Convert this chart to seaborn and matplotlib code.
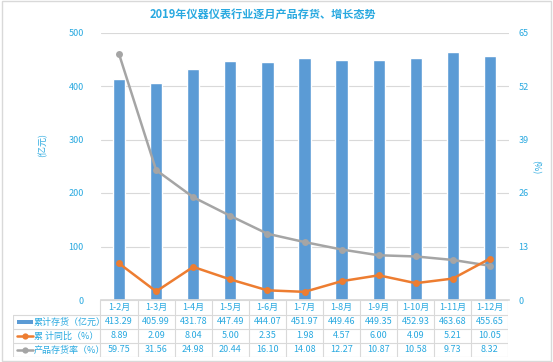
import numpy as np
import matplotlib
matplotlib.use("Agg")
import matplotlib.pyplot as plt
import seaborn as sns
from matplotlib.patches import Rectangle
from matplotlib.lines import Line2D

# data
months = ['1-2月', '1-3月', '1-4月', '1-5月', '1-6月', '1-7月', '1-8月', '1-9月', '1-10月', '1-11月', '1-12月']
inventory = [413.29, 405.99, 431.78, 447.49, 444.07, 451.97, 449.46, 449.35, 452.93, 463.68, 455.65]
yoy = [8.89, 2.09, 8.04, 5.00, 2.35, 1.98, 4.57, 6.00, 4.09, 5.21, 10.05]
stock_rate = [59.75, 31.56, 24.98, 20.44, 16.10, 14.08, 12.27, 10.87, 10.58, 9.73, 8.32]
row_names = ['累计存货（亿元）', '累 计同比（%）', '产品存货率（%）']
left_ticks = [0, 100, 200, 300, 400, 500]
right_ticks = [0, 13, 26, 39, 52, 65]

sns.set_theme(style="white")
plt.rcParams['font.family'] = ['Noto Sans CJK SC', 'DejaVu Sans']

blue = '#5b9bd5'
orange = '#ed7d31'
grey = '#a5a5a5'
txt = '#29a9e0'
gridc = '#d9d9d9'

W, H = 553, 362
fig = plt.figure(figsize=(W / 100, H / 100), dpi=100)
fig.add_artist(Rectangle((0.004, 0.004), 0.992, 0.992, transform=fig.transFigure,
                         fill=False, edgecolor='#d9d9d9', linewidth=1))

x0, x1 = 100.5, 508.5
ytop, ybot = 32.5, 300
ax = fig.add_axes([x0 / W, 1 - ybot / H, (x1 - x0) / W, (ybot - ytop) / H])
sns.barplot(x=months, y=inventory, ax=ax, color=blue, width=0.33, saturation=1)
ax.set_ylim(0, 500)
ax.set_yticks(left_ticks)
ax.yaxis.grid(True, color=gridc, linewidth=0.8)
ax.set_axisbelow(True)
ax.tick_params(axis='y', length=0, labelsize=6.5, labelcolor=txt, pad=12)
ax.set_xticks([])
ax.set_xlabel('')
ax.set_ylabel('')
for s in ['top', 'left', 'right']:
    ax.spines[s].set_visible(False)
ax.spines['bottom'].set_color(gridc)

ax2 = ax.twinx()
xs = np.arange(len(months))
sns.lineplot(x=xs, y=stock_rate, ax=ax2, color=grey, marker='o', markersize=5,
             markeredgewidth=0, linewidth=1.8)
sns.lineplot(x=xs, y=yoy, ax=ax2, color=orange, marker='o', markersize=5,
             markeredgewidth=0, linewidth=1.8)
ax2.set_ylim(0, 65)
ax2.set_yticks(right_ticks)
ax2.tick_params(axis='y', length=0, labelsize=6.5, labelcolor=txt, pad=7)
ax2.set_xlim(-0.5, len(months) - 0.5)
ax.set_xlim(-0.5, len(months) - 0.5)
ax2.set_ylabel('')
for s in ax2.spines.values():
    s.set_visible(False)

fig.text(263 / W, 1 - 14 / H, '2019年仪器仪表行业逐月产品存货、增长态势', ha='center', va='center',
         fontsize=8, fontweight='bold', color=txt)
fig.text(43 / W, 1 - 145 / H, '(亿元)', rotation=90, ha='center', va='center', fontsize=6.5, color=txt)
fig.text(535 / W, 1 - 167 / H, '(%)', rotation=270, ha='center', va='center', fontsize=6.5, color=txt)

# data table below the plot
tl, tb = 13, 357
tax = fig.add_axes([tl / W, 1 - tb / H, (x1 - tl) / W, (tb - ybot) / H])
colw = (x1 - x0) / len(months)
xl = -0.5 - (x0 - tl) / colw
tax.set_xlim(xl, len(months) - 0.5)
tax.set_ylim(57, 0)
tax.axis('off')
rows_y = [0, 15, 29, 43, 57]
for i in range(len(months) + 1):
    tax.plot([i - 0.5, i - 0.5], [0, 57], color=gridc, lw=0.8)
tax.plot([xl, xl], [15, 57], color=gridc, lw=0.8)
for yy in rows_y[1:]:
    tax.plot([xl, len(months) - 0.5], [yy, yy], color=gridc, lw=0.8)
tax.plot([-0.5, len(months) - 0.5], [0, 0], color=gridc, lw=0.8)

values = [inventory, yoy, stock_rate]
for i, m in enumerate(months):
    tax.text(i, 7.5, m, ha='center', va='center', fontsize=6.5, color=txt)
    for r, vals in enumerate(values):
        tax.text(i, (rows_y[r + 1] + rows_y[r + 2]) / 2, f'{vals[i]:.2f}', ha='center', va='center',
                 fontsize=6.5, color=txt)

hx0 = xl + 4 / colw
hx1 = xl + 20 / colw
for r, name in enumerate(row_names):
    yc = (rows_y[r + 1] + rows_y[r + 2]) / 2
    if r == 0:
        tax.add_patch(Rectangle((hx0, yc - 2), hx1 - hx0, 4, color=blue, lw=0))
    else:
        c = orange if r == 1 else grey
        tax.plot([hx0, hx1], [yc, yc], color=c, lw=1.8, marker=None)
        tax.plot([(hx0 + hx1) / 2], [yc], color=c, marker='o', markersize=4.5, markeredgewidth=0)
    tax.text(hx1 + 0.5 / colw, yc, name, ha='left', va='center', fontsize=6.5, color=txt)

fig.savefig('out.png', dpi=100)
